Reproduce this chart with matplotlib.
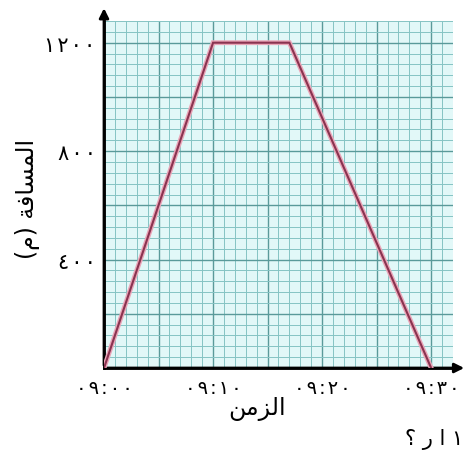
#!/usr/bin/env python3

import matplotlib
matplotlib.use("Agg")
import matplotlib.pyplot as plt
from matplotlib.ticker import MultipleLocator, FuncFormatter

# data: minutes after 09:00, distance in metres
minutes = [0, 10, 17, 30]
distance = [0, 1200, 1200, 0]

y_labelled = [400, 800, 1200]
x_labelled = [0, 10, 20, 30]

# labels (Arabic presentation forms, already in visual order)
xlabel_txt = "\ufee6\ufee3\ufeb0\ufedf\ufe8d"                 # الزمن
ylabel_txt = "(\ufee1) \ufe94\ufed3\ufe8e\ufeb4\ufee4\ufedf\ufe8d"  # المسافة (م)
stray_txt = "\u061f \ufead \ufe8d \u0661"

ar_digits = str.maketrans("0123456789", "٠١٢٣٤٥٦٧٨٩")

def ar(s):
    # arabic-indic digits, a little spaced out like the print
    return "\u200a".join(s.translate(ar_digits))

plt.rcParams['font.family'] = ['DejaVu Sans']

fig = plt.figure(figsize=(4.67, 4.52), dpi=100)
ax = fig.add_axes([0.2227, 0.1836, 0.7473, 0.7677])
ax.set_facecolor('#e2f8f8')

ax.set_xlim(0, 32)
ax.set_ylim(0, 1280)

ax.xaxis.set_major_locator(MultipleLocator(5))
ax.xaxis.set_minor_locator(MultipleLocator(1))
ax.yaxis.set_major_locator(MultipleLocator(200))
ax.yaxis.set_minor_locator(MultipleLocator(40))

ax.xaxis.set_major_formatter(FuncFormatter(
    lambda v, p: ar("09:%02d" % int(round(v))) if int(round(v)) in x_labelled else ""))
ax.yaxis.set_major_formatter(FuncFormatter(
    lambda v, p: ar("%d" % int(round(v))) if int(round(v)) in y_labelled else ""))

ax.grid(True, which='minor', color='#86c4c4', linewidth=0.7)
ax.grid(True, which='major', color='#5a9a9a', linewidth=1.0)
ax.set_axisbelow(True)

ax.tick_params(which='both', length=0)
ax.tick_params(axis='x', labelsize=14, pad=7)
ax.tick_params(axis='y', labelsize=15, pad=6)

for s in ['top', 'right']:
    ax.spines[s].set_visible(False)
for s in ['left', 'bottom']:
    ax.spines[s].set_linewidth(2)
    ax.spines[s].set_color('black')

# arrows on axes
ax.annotate('', xy=(0, 1.045), xytext=(0, 0), xycoords='axes fraction',
            arrowprops=dict(arrowstyle='-|>', color='black', lw=2, mutation_scale=14),
            annotation_clip=False)
ax.annotate('', xy=(1.04, 0), xytext=(0, 0), xycoords='axes fraction',
            arrowprops=dict(arrowstyle='-|>', color='black', lw=2, mutation_scale=14),
            annotation_clip=False)

ax.plot(minutes, distance, color='#eaa6b8', linewidth=3.5, solid_joinstyle='miter', zorder=3)
ax.plot(minutes, distance, color='#8a3350', linewidth=1.5, solid_joinstyle='miter', zorder=4)

fig.text(0.058, 0.56, ylabel_txt, rotation=90, ha='center', va='center', fontsize=17)
fig.text(0.55, 0.095, xlabel_txt, ha='center', va='center', fontsize=17)
fig.text(0.868, 0.027, stray_txt, ha='left', va='center', fontsize=15)

plt.savefig('out.png', dpi=100)
